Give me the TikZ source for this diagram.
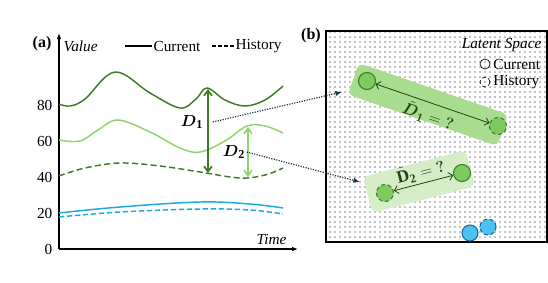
\documentclass[tikz,border=0pt]{standalone}
\usepackage{amsmath, amssymb}
\usepackage{fontspec}
\setmainfont{Liberation Serif}
\usetikzlibrary{patterns.meta, arrows.meta}

\definecolor{darkgrn}{HTML}{3E7B27}
\definecolor{lightgrn}{HTML}{8DD46E}
\definecolor{curblue}{HTML}{1BA9E1}
\definecolor{dotnavy}{HTML}{1E3550}
\definecolor{boxgrn}{HTML}{A8DC8E}
\definecolor{boxpale}{HTML}{D5EEC7}
\definecolor{ballgrn}{HTML}{7DCB5E}
\definecolor{ballblue}{HTML}{4EC2EE}
\definecolor{rimblue}{HTML}{1668A0}

\begin{document}
\begin{tikzpicture}[x=0.75pt, y=-0.75pt,
      every node/.style={font=\fontsize{11.5}{13}\selectfont, inner sep=1pt},
      curve/.style={line width=1.1pt, smooth, tension=0.6},
      hist/.style={dash pattern=on 4.5pt off 2.5pt},
      link/.style={dotnavy, densely dotted, line width=0.9pt, -{Latex[length=5pt,width=4pt]}},
      gap/.style={line width=1.3pt, {Straight Barb[length=4pt,width=6pt]}-{Straight Barb[length=4pt,width=6pt]}},
      ball/.style={circle, draw=darkgrn, line width=0.8pt, fill=ballgrn, minimum size=12.8pt, inner sep=0pt},
      bblue/.style={circle, draw=rimblue, line width=0.8pt, fill=ballblue, minimum size=12pt, inner sep=0pt},
      legball/.style={circle, draw=black, line width=0.5pt, minimum size=7.5pt, inner sep=0pt},
      gbox/.style={rounded corners=4pt, inner sep=0pt}]
    \useasboundingbox (0,0) rectangle (548,282);
    % panel (a)
    \coordinate (org) at (59,249); \coordinate (ytop) at (59,33); \coordinate (xend) at (298,249);
    \draw[line width=0.9pt, -{Latex[length=4.5pt,width=3.5pt]}] (org) -- (ytop);
    \draw[line width=0.9pt, -{Latex[length=4.5pt,width=3.5pt]}] (org) -- (xend);
    \node[font=\fontsize{12}{13}\bfseries\selectfont] (tagA) at (42,44) {(a)};
    \node[anchor=west] (yname) at (62,46) {\textit{Value}};
    \node[anchor=east] (xname) at (288,239) {\textit{Time}};
    \node[anchor=east] (t0) at (54,249) {0}; \node[anchor=east] (t20) at (54,213) {20};
    \node[anchor=east] (t40) at (54,177) {40}; \node[anchor=east] (t60) at (54,141) {60};
    \node[anchor=east] (t80) at (54,105) {80};
    \coordinate (lgA) at (125,46); \coordinate (lgB) at (152,46);
    \coordinate (lgC) at (212,46); \coordinate (lgD) at (234,46);
    \draw[line width=1pt] (lgA) -- (lgB); \node[anchor=west] (lgcur) at (lgB) {Current};
    \draw[line width=1pt, dash pattern=on 3pt off 1.5pt] (lgC) -- (lgD); \node[anchor=west] (lghis) at (lgD) {History};
    \draw[curve, darkgrn] plot coordinates {(59,104) (70,106) (85,99) (115,72) (150,93) (180,108)
      (196,99) (207,88) (225,100) (245,106) (265,100) (283,86)};
    \draw[curve, lightgrn] plot coordinates {(59,140) (80,141) (98,130) (118,120) (150,132) (180,148)
      (200,152) (225,141) (247,126) (265,126) (283,133)};
    \draw[curve, darkgrn, hist] plot coordinates {(59,176) (85,168) (120,163) (160,166) (200,172)
      (240,178) (265,175) (283,168)};
    \draw[curve, curblue] plot coordinates {(59,213) (120,207) (200,202) (250,204) (283,208)};
    \draw[curve, curblue, dash pattern=on 4pt off 2pt] plot coordinates {(59,217) (120,212) (200,209) (250,210) (283,214)};
    \coordinate (d1top) at (208,89); \coordinate (d1bot) at (208,173);
    \coordinate (d2top) at (248,127); \coordinate (d2bot) at (248,177);
    \draw[gap, darkgrn] (d1bot) -- (d1top);
    \draw[gap, lightgrn] (d2bot) -- (d2top);
    \node[font=\fontsize{13}{14}\selectfont] (lD1) at (192,122) {$\boldsymbol{D}_{\mathbf{1}}$};
    \node[font=\fontsize{13}{14}\selectfont] (lD2) at (234,152) {$\boldsymbol{D}_{\mathbf{2}}$};
    % panel (b)
    \node[font=\fontsize{12}{13}\bfseries\selectfont] (tagB) at (311,36) {(b)};
    \fill[white] (326,31) rectangle (547,242);
    \fill[pattern={Dots[distance=3.75pt, radius=0.45pt]}, pattern color=black] (326,31) rectangle (547,242);
    \draw[line width=0.8pt] (326,31) rectangle (547,242);
    \node[anchor=east] (latent) at (543,45) {\textit{Latent Space}};
    \node[legball] (mcur) at (485,64) {}; \node[anchor=west, xshift=1pt] (tcur) at (mcur.east) {Current};
    \node[legball, densely dashed] (mhis) at (485,82) {}; \node[anchor=west, xshift=1pt] (this) at (mhis.east) {History};
    \node[gbox, fill=boxgrn, rotate=-19, minimum width=118.5pt, minimum height=25pt] (box1) at (428,104.5) {};
    \node[gbox, fill=boxpale, rotate=14.6, minimum width=79.5pt, minimum height=28pt] (box2) at (419,181.5) {};
    \node[ball] (c1) at (367,81) {}; \node[ball, densely dashed] (h1) at (498,126) {};
    \node[ball] (c2) at (462,173) {}; \node[ball, densely dashed] (h2) at (385,193) {};
    \draw[darkgrn!55!black, line width=0.6pt, {Straight Barb[length=3pt]}-{Straight Barb[length=3pt]}] (c1) -- (h1)
      node[midway, below=2pt, sloped, font=\fontsize{13}{14}\selectfont] {$\tilde{\boldsymbol{D}}_{\boldsymbol{1}} = \boldsymbol{?}$};
    \draw[darkgrn!55!black, line width=0.6pt, {Straight Barb[length=3pt]}-{Straight Barb[length=3pt]}] (h2) -- (c2)
      node[midway, above=1pt, sloped, font=\fontsize{13}{14}\selectfont] {$\tilde{\mathbf{D}}_{\mathbf{2}} = \boldsymbol{?}$};
    \node[bblue] (bc) at (470,233) {}; \node[bblue, densely dashed] (bh) at (488,227) {};
    % links between panels
    \coordinate (tgt1) at (342,92); \coordinate (tgt2) at (360,182);
    \draw[link] (lD1.east) ++(6pt,0) coordinate (src1) (src1) -- (tgt1);
    \draw[link] (lD2.east) -- (tgt2);
  \end{tikzpicture}
\end{document}
